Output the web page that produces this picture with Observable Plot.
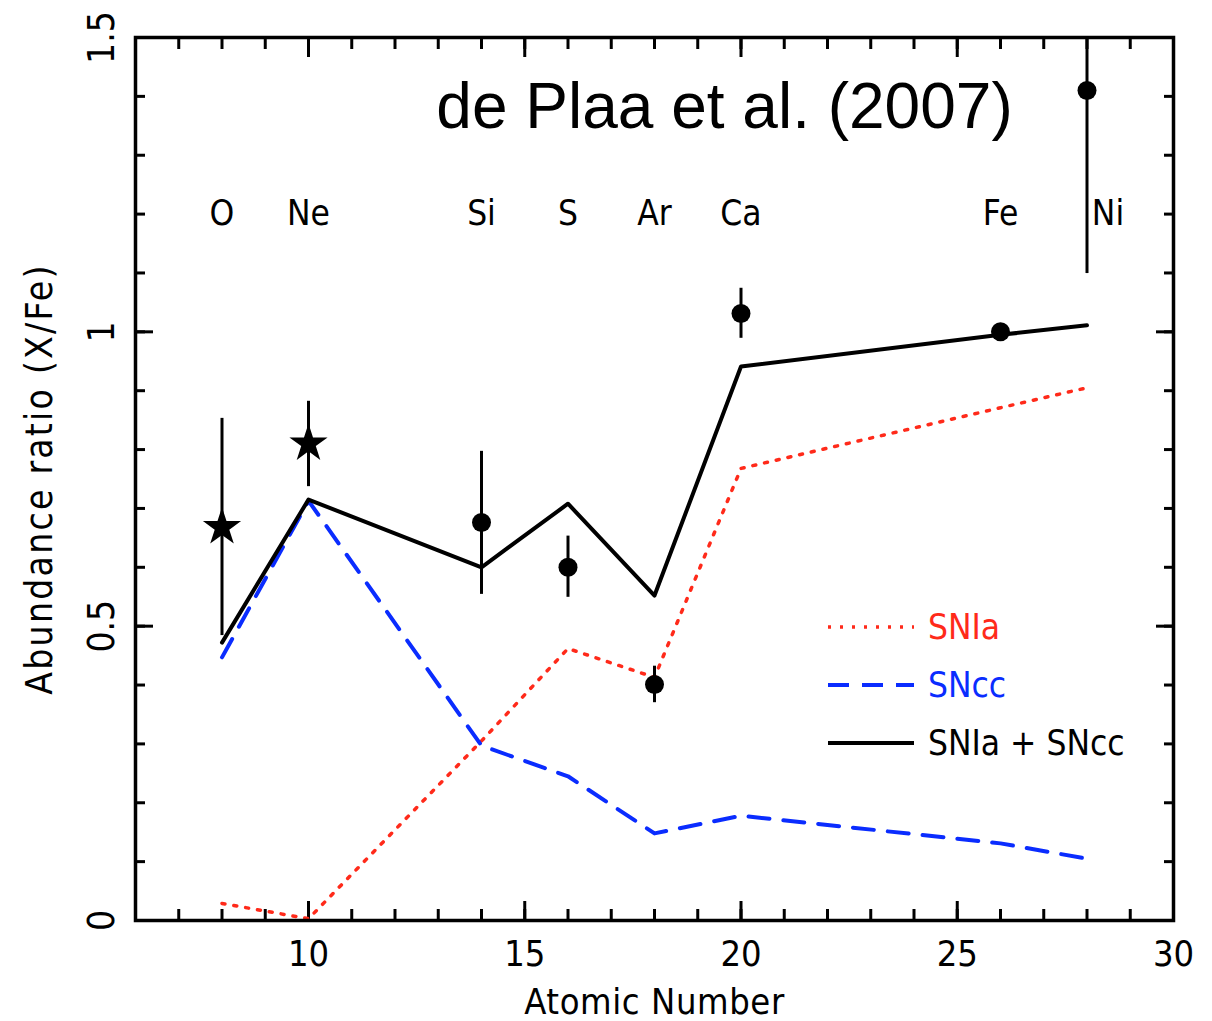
<!DOCTYPE html>
<html>
<head>
<meta charset="utf-8">
<script src="https://cdn.jsdelivr.net/npm/d3@7"></script>
<script src="https://cdn.jsdelivr.net/npm/@observablehq/plot@0.6"></script>
<style>
  html, body { margin: 0; padding: 0; background: #fff; }
  #wrap { position: relative; width: 1212px; height: 1021px; overflow: hidden; }
  #title { position: absolute; left: 0; width: 1449px; top: 68px; text-align: center;
           font-family: "Liberation Sans", Arial, sans-serif; font-size: 64px; line-height: 76px; color: #000; }
  #legend { position: absolute; left: 828px; top: 598px; font-family: "DejaVu Sans Condensed", "DejaVu Sans", sans-serif;
            font-size: 35px; }
  .row { display: flex; align-items: center; height: 58px; }
  .row svg { width: 86px; height: 10px; margin-right: 14px; }
  [aria-label="y-axis label"] text { letter-spacing: 2.2px; }
  [aria-label="x-axis label"] text { letter-spacing: 0.6px; }
</style>
</head>
<body>
<div id="wrap">
  <div id="chart"></div>
  <div id="title">de Plaa et al. (2007)</div>
  <div id="legend"></div>
</div>
<script>
// ---- data ----
const elements     = ["O", "Ne", "Si", "S", "Ar", "Ca", "Fe", "Ni"];
const atomicNumber = [8, 10, 14, 16, 18, 20, 26, 28];
const observed     = [0.668, 0.810, 0.676, 0.600, 0.401, 1.031, 1.000, 1.410];
const errLow       = [0.484, 0.737, 0.554, 0.549, 0.370, 0.989, 0.990, 1.099];
const errHigh      = [0.853, 0.882, 0.797, 0.653, 0.432, 1.074, 1.010, 1.500];
const instrument   = ["RGS", "RGS", "EPIC", "EPIC", "EPIC", "EPIC", "EPIC", "EPIC"];

const modelZ = [8, 10, 14, 16, 18, 20, 26, 28];
const snIa   = [0.029, 0.003, 0.305, 0.462, 0.413, 0.768, 0.871, 0.905];
const snCC   = [0.447, 0.713, 0.297, 0.245, 0.148, 0.178, 0.131, 0.105];
const total  = [0.472, 0.715, 0.600, 0.708, 0.552, 0.941, 0.995, 1.011];

const seriesNames  = ["SNIa", "SNcc", "SNIa + SNcc"];
const seriesColors = ["#ff2a1a", "#0a2cff", "#000000"];
const xMajor = [10, 15, 20, 25, 30];
const xMinor = d3.range(6, 31);
const yMajor = [0, 0.5, 1, 1.5];
const yMinor = d3.range(0, 16).map(i => i / 10);

// ---- build tables ----
const obs = elements.map((e, i) => ({el: e, z: atomicNumber[i], v: observed[i], lo: errLow[i], hi: errHigh[i], inst: instrument[i]}));
const model = modelZ.map((z, i) => ({z, ia: snIa[i], cc: snCC[i], tot: total[i]}));

const FONT = '"DejaVu Sans Condensed", "DejaVu Sans", sans-serif';
const tickW = 3;

function tickAxes() {
  const out = [];
  for (const a of ["bottom", "top"]) {
    out.push(Plot.axisX(xMinor, {anchor: a, tickSize: -11, strokeWidth: tickW, fill: "none", label: null}));
    out.push(Plot.axisX(xMajor, {anchor: a, tickSize: -19, strokeWidth: tickW, fill: "none", label: null}));
  }
  for (const a of ["left", "right"]) {
    out.push(Plot.axisY(yMinor, {anchor: a, tickSize: -10, strokeWidth: tickW, fill: "none", label: null}));
    out.push(Plot.axisY(yMajor, {anchor: a, tickSize: -18, strokeWidth: tickW, fill: "none", label: null}));
  }
  return out;
}

const chart = Plot.plot({
  width: 1212,
  height: 1021,
  marginTop: 37,
  marginRight: 39,
  marginBottom: 101,
  marginLeft: 135,
  style: {fontFamily: FONT, fontSize: "35px", background: "white", overflow: "visible"},
  x: {domain: [6, 30]},
  y: {domain: [0, 1.5]},
  symbol: {domain: ["RGS", "EPIC"], range: ["star", "circle"]},
  marks: [
    ...tickAxes(),
    Plot.axisX(xMajor, {anchor: "bottom", tickSize: 0, tickPadding: 20, fontSize: 36,
      label: "Atomic Number", labelAnchor: "center", labelOffset: 93, labelArrow: "none"}),
    Plot.axisY(yMajor, {anchor: "left", tickSize: 0, tickPadding: 22, tickRotate: -90, fontSize: 37,
      tickFormat: d => String(d),
      label: "Abundance ratio (X/Fe)", labelAnchor: "center", labelOffset: 110, labelArrow: "none"}),
    // models
    Plot.line(model, {x: "z", y: "ia", stroke: seriesColors[0], strokeWidth: 3.5, strokeDasharray: "3,9"}),
    Plot.line(model, {x: "z", y: "cc", stroke: seriesColors[1], strokeWidth: 4, strokeDasharray: "21,14"}),
    Plot.line(model, {x: "z", y: "tot", stroke: seriesColors[2], strokeWidth: 4}),
    // observations
    Plot.ruleX(obs, {x: "z", y1: "lo", y2: "hi", strokeWidth: 3, stroke: "black"}),
    Plot.dot(obs.filter(d => d.inst === "RGS"), {x: "z", y: "v", symbol: "inst", fill: "black", stroke: "none", r: 12}),
    Plot.dot(obs.filter(d => d.inst !== "RGS"), {x: "z", y: "v", symbol: "inst", fill: "black", stroke: "none", r: 9.5}),
    // element labels
    Plot.text(obs.filter(d => d.el !== "Ni"), {x: "z", y: 1.2, text: "el", fontSize: 35}),
    Plot.text(obs.filter(d => d.el === "Ni"), {x: "z", y: 1.2, text: "el", fontSize: 35, dx: 21}),
    Plot.frame({strokeWidth: 3.5})
  ]
});
document.getElementById("chart").appendChild(chart);

// ---- legend ----
const dashes = ["3,9", "21,13", null];
const widths = [3.5, 4, 4];
const legend = document.getElementById("legend");
seriesNames.forEach((name, i) => {
  const row = document.createElement("div");
  row.className = "row";
  const svg = d3.create("svg").attr("viewBox", "0 0 86 10");
  svg.append("line").attr("x1", 0).attr("x2", 86).attr("y1", 5).attr("y2", 5)
    .attr("stroke", seriesColors[i]).attr("stroke-width", widths[i])
    .attr("stroke-dasharray", dashes[i]);
  row.appendChild(svg.node());
  const span = document.createElement("span");
  span.textContent = name;
  span.style.color = seriesColors[i];
  row.appendChild(span);
  legend.appendChild(row);
});
</script>
</body>
</html>
